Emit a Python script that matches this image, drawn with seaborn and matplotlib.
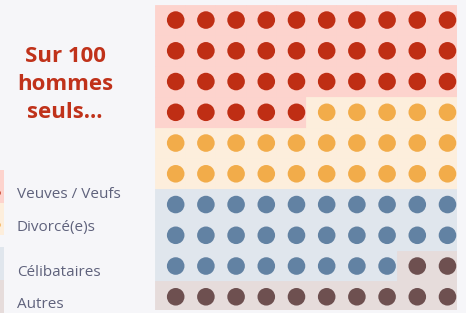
import matplotlib
matplotlib.use("Agg")
import matplotlib.pyplot as plt
import seaborn as sns
import pandas as pd
import numpy as np

categories = ["Veuves / Veufs", "Divorcé(e)s", "Célibataires", "Autres"]
counts = [35, 25, 28, 12]
dot_colors = ["#bf2e14", "#f2ac4a", "#6282a3", "#6e5050"]
bg_colors = ["#fdd3cd", "#fdeedc", "#e0e6ed", "#e6dcdb"]
title_lines = ["Sur 100", "hommes", "seuls..."]
n_cols = 10

sns.set_theme(style="white")
plt.rcParams["font.family"] = ["Open Sans", "DejaVu Sans"]

W, H = 466, 313
BG = "#f6f6f9"
fig = plt.figure(figsize=(W / 100, H / 100), dpi=100, facecolor=BG)

# build cells
cat_list = []
for c, n in zip(categories, counts):
    cat_list += [c] * n
df = pd.DataFrame({"k": np.arange(len(cat_list)), "category": cat_list})
df["row"] = df["k"] // n_cols
df["col"] = df["k"] % n_cols
df["bg"] = df["category"].map(dict(zip(categories, bg_colors)))

# waffle axes (pixel placement)
x0, x1 = 155, 457
y0, y1 = 5.3, 310
ax = fig.add_axes([x0 / W, 1 - y1 / H, (x1 - x0) / W, (y1 - y0) / H])
ax.set_xlim(-0.685, 9.315)
ax.set_ylim(9.43, -0.48)
ax.bar(df["col"] - 0.685, 1.0, bottom=df["row"] - 0.5, width=1.0, align="edge",
       color=df["bg"], edgecolor=df["bg"], linewidth=0.6)
sns.scatterplot(data=df, x="col", y="row", hue="category",
                palette=dict(zip(categories, dot_colors)), s=160, linewidth=0,
                legend=False, ax=ax, zorder=3)
ax.set_axis_off()

# left side: title and legend
axl = fig.add_axes([0, 0, x0 / W, 1])
axl.set_xlim(0, x0)
axl.set_ylim(H, 0)
axl.set_axis_off()
axl.set_facecolor(BG)

for i, line in enumerate(title_lines):
    axl.text(65, 57 + 28 * i, line, ha="center", va="center", color="#c0321a",
             fontsize=16, fontweight="bold")

leg_spans = [(170, 203), (203, 235), (247, 280), (280, 313)]
leg_text_y = [195, 228, 272, 305]
for (a, b), ty, c, bgc in zip(leg_spans, leg_text_y, categories, bg_colors):
    axl.bar(-10, b - a, bottom=a, width=14, align="edge", color=bgc, linewidth=0)
    axl.text(17, ty, c, ha="left", va="center", color="#5f627c", fontsize=11)
axl.scatter([-2.5, -2.5], [193, 225], s=22, color=dot_colors[:2], linewidth=0, zorder=3)

fig.savefig("out.png", dpi=100, facecolor=BG)
